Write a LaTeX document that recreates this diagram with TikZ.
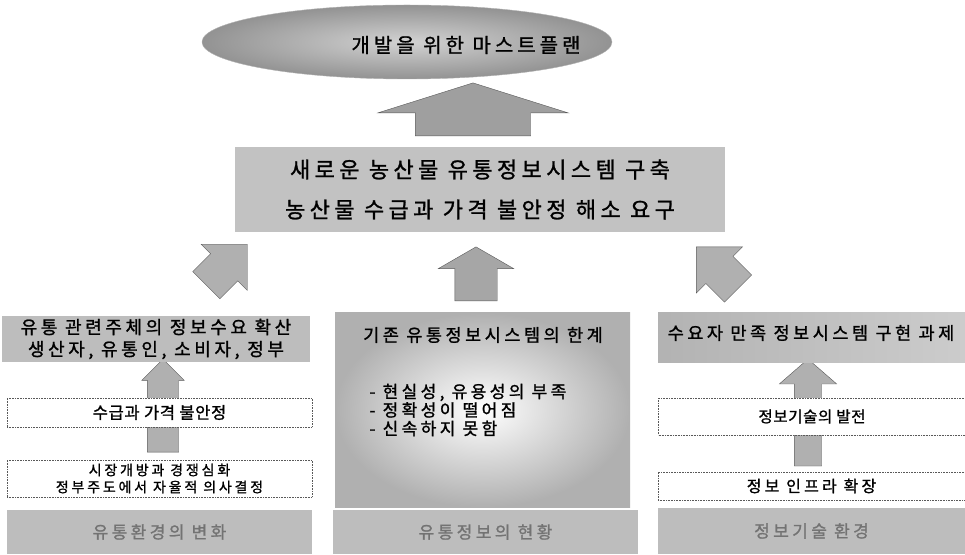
\documentclass[tikz,border=0pt]{standalone}
\usepackage{fontspec}
\setmainfont{Noto Sans CJK KR}
\newfontfamily\kr[LetterSpace=20,FakeBold=1.2]{Noto Sans CJK KR}
\newfontfamily\krn[LetterSpace=4,FakeBold=1.2]{Noto Sans CJK KR}
\usetikzlibrary{shapes.geometric,shapes.arrows,backgrounds,calc}
\begin{document}
\begin{tikzpicture}[x=1pt,y=1pt,
  graybox/.style={rectangle, fill=gray!50, inner sep=0pt},
  whitebox/.style={rectangle, draw=black!65, densely dotted, line width=0.6pt, fill=white, inner sep=0pt},
  fatarrow/.style={single arrow, fill=gray!62, draw=gray!70!black, line width=0.4pt, inner xsep=0pt},
  fs/.style={font=\kr\fontsize{#1}{#1}\selectfont},
  fsn/.style={font=\krn\fontsize{#1}{#1}\selectfont},
  fsl/.style 2 args={font=\kr\fontsize{#1}{#2}\selectfont},
]
\useasboundingbox (0,0) rectangle (965,554);

% ---- goal ellipse
\node[ellipse, minimum width=410, minimum height=74, inner color=gray!35, outer color=gray!85, draw=gray!60] (goal) at (407,512) {};
\node[fs=20] (goaltxt) at (466,509) {개발을 위한 마스트플랜};

% ---- central requirement box
\node[graybox, fill=gray!48, minimum width=490, minimum height=85, align=center, fsl={22}{40}] (need) at (480,364.5)
  {새로운 농산물 유통정보시스템 구축\\농산물 수급과 가격 불안정 해소 요구};

% ---- left column
\node[graybox, fill=gray!52, minimum width=308, minimum height=46, align=center, fsl={18}{22}] (ltop) at (156,215)
  {유통 관련주체의 정보수요 확산\\생산자, 유통인, 소비자, 정부};
\node[whitebox, minimum width=305, minimum height=29, fsn=16.5] (lbox1) at (159.5,141.5) {수급과 가격 불안정};
\node[whitebox, minimum width=305, minimum height=37, align=center, fsl={14}{17}] (lbox2) at (159.5,75.5)
  {시장개방과 경쟁심화\\정부주도에서 자율적 의사결정};
\node[graybox, fill=gray!52, minimum width=305, minimum height=44, fs=17, text=black!55] (lbot) at (159.5,22) {유통환경의 변화};

% ---- middle column
\node[rectangle, inner sep=0pt, minimum width=295, minimum height=194, inner color=white, outer color=gray!62] (mbig) at (482.5,144) {};
\node[fs=17.5] (mtitle) at (483,219) {기존 유통정보시스템의 한계};
\node[anchor=west, align=left, fsl={17}{18.5}] (mlist) at (366,144)
  {- 현실성, 유용성의 부족\\- 정확성이 떨어짐\\- 신속하지 못함};
\node[graybox, fill=gray!52, minimum width=305, minimum height=44, fs=17, text=black!55] (mbot) at (485.5,22) {유통정보의 현황};

% ---- right column
\node[rectangle, inner sep=0pt, minimum width=307, minimum height=50, left color=gray!60, right color=gray!40] (rtop) at (811.5,216) {};
\node[fs=17.5] (rtoptxt) at (811,221) {수요자 만족 정보시스템 구현 과제};
\node[whitebox, minimum width=307, minimum height=37, fsn=15.5] (rbox1) at (812,137.5) {정보기술의 발전};
\node[whitebox, minimum width=307, minimum height=28, fs=16] (rbox2) at (811.5,68) {정보 인프라 확장};
\node[graybox, fill=gray!52, minimum width=307, minimum height=46, fs=17, text=black!55] (rbot) at (811.5,23) {정보기술 환경};

% ---- arrows (behind the boxes)
\begin{scope}[on background layer]
  \fill[white] (0,0) rectangle (965,554);
  \node[fatarrow, fill=gray!75, rotate=90, inner ysep=57.5, minimum height=53, minimum width=190,
        single arrow head extend=37.5, single arrow tip angle=145] (uparr) at (473,435.5) {};
  \node[fatarrow, rotate=45, inner ysep=19, minimum height=58, minimum width=65,
        single arrow head extend=13.5, single arrow tip angle=90] (larr) at (220,282.5) {};
  \node[fatarrow, fill=gray!70, rotate=90, inner ysep=21, minimum height=54, minimum width=75,
        single arrow head extend=16.5, single arrow tip angle=120] (marr) at (476,274) {};
  \node[fatarrow, rotate=135, inner ysep=19, minimum height=59, minimum width=65,
        single arrow head extend=13.5, single arrow tip angle=90] (rarr) at (724,279.5) {};
  \node[fatarrow, rotate=90, inner ysep=15.5, minimum height=93, minimum width=42,
        single arrow head extend=5.5, single arrow tip angle=90] (lcol) at (163,140.5) {};
  \node[fatarrow, rotate=90, inner ysep=13.5, minimum height=107, minimum width=57,
        single arrow head extend=15, single arrow tip angle=98] (rcol) at (808,135.5) {};
\end{scope}
\end{tikzpicture}
\end{document}
